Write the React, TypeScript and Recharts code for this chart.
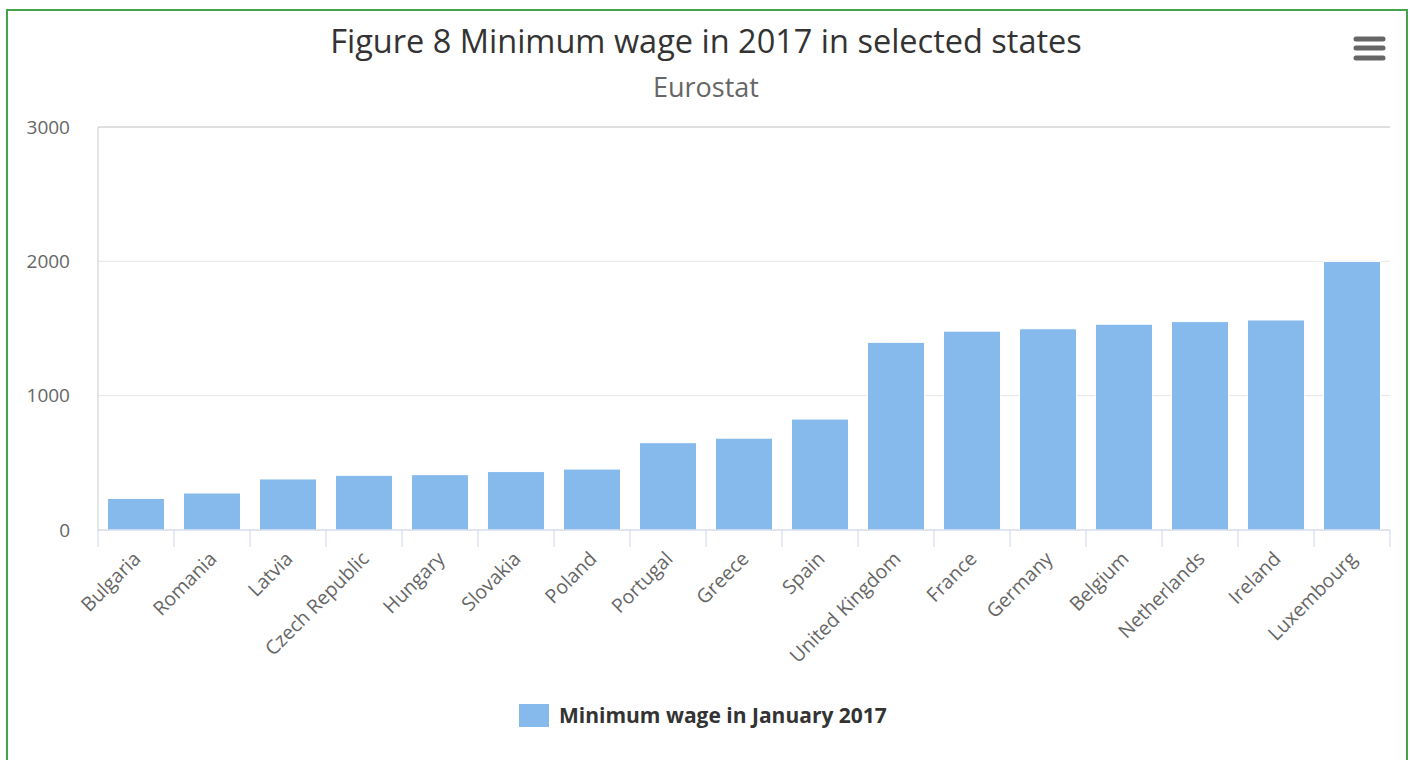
import { BarChart, Bar, XAxis, YAxis, CartesianGrid, ReferenceLine } from 'recharts';

// Monthly minimum wage, EUR, January 2017
const countries = [
  'Bulgaria', 'Romania', 'Latvia', 'Czech Republic', 'Hungary', 'Slovakia', 'Poland', 'Portugal', 'Greece',
  'Spain', 'United Kingdom', 'France', 'Germany', 'Belgium', 'Netherlands', 'Ireland', 'Luxembourg',
];
const wages = [235.2, 275.3, 380, 407.1, 411.9, 435, 453.5, 650, 683.8, 825.7, 1396.9, 1480.3, 1498, 1531.9, 1551.6, 1563.3, 1998.6];
const yTicks = [0, 1000, 2000, 3000];

const data = countries.map((name, i) => ({ name, wage: wages[i] }));

const W = 1410;
const H = 760;
const X_AXIS_H = 30;
const margin = { top: 127, right: 20, bottom: 230 - X_AXIS_H, left: 0 };
const Y_AXIS_W = 98;
const PLOT_W = W - margin.left - margin.right - Y_AXIS_W;
const BAND = PLOT_W / countries.length;

const FONT = '"Open Sans", "Noto Sans", sans-serif';
const BAR_COLOR = '#87baec';

// category label rotated -45deg, with tick marks on the band edges
function CountryTick(props: any) {
  const { x, y, payload, index } = props;
  const tx = x + 6;
  const ty = y + 30;
  return (
    <g>
      <line x1={x - BAND / 2} y1={y} x2={x - BAND / 2} y2={y + 17} stroke="#ccd6eb" strokeWidth={1} />
      {index === countries.length - 1 && (
        <line x1={x + BAND / 2} y1={y} x2={x + BAND / 2} y2={y + 17} stroke="#ccd6eb" strokeWidth={1} />
      )}
      <text
        x={tx}
        y={ty}
        textAnchor="end"
        transform={`rotate(-45 ${tx} ${ty})`}
        fontSize={19.5}
        fontFamily={FONT}
        fill="#666666"
      >
        {payload.value}
      </text>
    </g>
  );
}

export default function App() {
  return (
    <div style={{ position: 'absolute', left: 0, top: 0, width: W, height: H, background: '#fff', overflow: 'hidden', fontFamily: FONT }}>
      <div style={{ position: 'absolute', left: 6, top: 9, width: 1398, height: 800, border: '2px solid #43a548' }} />

      <div style={{ position: 'absolute', left: 6, width: 1400, top: 25, textAlign: 'center', fontSize: 32.5, lineHeight: '32px', color: '#333333' }}>
        Figure 8 Minimum wage in 2017 in selected states
      </div>
      <div style={{ position: 'absolute', left: 6, width: 1400, top: 73, textAlign: 'center', fontSize: 27, lineHeight: '27px', color: '#666666' }}>
        Eurostat
      </div>

      {/* context menu button */}
      <svg style={{ position: 'absolute', left: 1348, top: 32 }} width={42} height={34}>
        {[7, 16, 26].map((y) => (
          <line key={y} x1={8} y1={y} x2={35} y2={y} stroke="#666666" strokeWidth={5} strokeLinecap="round" />
        ))}
      </svg>

      <div style={{ position: 'absolute', left: 0, top: 0 }}>
        <BarChart width={W} height={H} data={data} margin={margin} barCategoryGap="12.5%">
          <CartesianGrid vertical={false} stroke="#e6e6e6" />
          <XAxis
            dataKey="name"
            height={X_AXIS_H}
            interval={0}
            tickLine={false}
            tickSize={0}
            tickMargin={0}
            axisLine={{ stroke: '#ccd6eb' }}
            tick={<CountryTick />}
          />
          <YAxis
            width={Y_AXIS_W}
            domain={[0, 3000]}
            ticks={yTicks}
            tickLine={false}
            tickSize={0}
            tickMargin={28}
            axisLine={{ stroke: '#cccccc' }}
            tick={{ fontSize: 19, fill: '#666666', fontFamily: FONT }}
          />
          <YAxis yAxisId="right" orientation="right" width={0} domain={[0, 3000]} tick={false} tickLine={false} axisLine={{ stroke: '#cccccc' }} />
          <ReferenceLine y={3000} stroke="#cccccc" />
          <Bar dataKey="wage" fill={BAR_COLOR} stroke="#ffffff" strokeWidth={1} isAnimationActive={false} />
        </BarChart>
      </div>

      <div style={{ position: 'absolute', left: 519, top: 704, height: 23, display: 'flex', alignItems: 'center' }}>
        <div style={{ width: 30, height: 23, background: BAR_COLOR }} />
        <div style={{ marginLeft: 10, fontSize: 21, lineHeight: '23px', fontWeight: 700, color: '#333333' }}>Minimum wage in January 2017</div>
      </div>
    </div>
  );
}
